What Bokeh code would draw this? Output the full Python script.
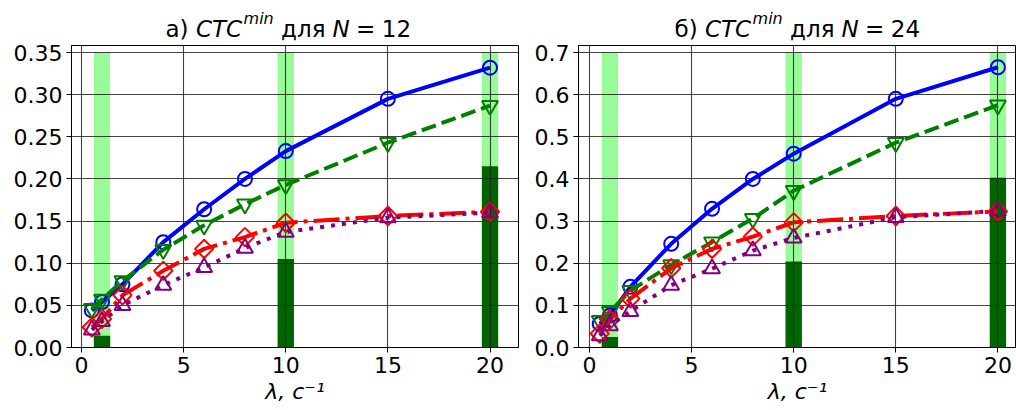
import numpy as np
from bokeh.plotting import figure
from bokeh.layouts import row, column
from bokeh.models import Label, FixedTicker, NumeralTickFormatter, Range1d
from bokeh.embed import file_html
from bokeh.resources import INLINE

# ---- data -------------------------------------------------------------
lam = [0.5, 1, 2, 4, 6, 8, 10, 15, 20]

blue_12 = [0.044, 0.054, 0.075, 0.125, 0.164, 0.200, 0.233, 0.295, 0.332]
green_12 = [0.046, 0.057, 0.079, 0.116, 0.145, 0.170, 0.193, 0.243, 0.287]
red_12 = [0.024, 0.034, 0.062, 0.091, 0.117, 0.131, 0.148, 0.156, 0.161]
purple_12 = [0.021, 0.031, 0.050, 0.074, 0.095, 0.118, 0.137, 0.154, 0.160]

blue_24 = [0.056, 0.076, 0.144, 0.246, 0.329, 0.400, 0.460, 0.590, 0.665]
green_24 = [0.064, 0.085, 0.135, 0.196, 0.250, 0.306, 0.372, 0.486, 0.575]
red_24 = [0.033, 0.066, 0.116, 0.188, 0.234, 0.263, 0.297, 0.312, 0.323]
purple_24 = [0.028, 0.052, 0.086, 0.148, 0.187, 0.230, 0.260, 0.309, 0.324]

bar_lam = [1, 10, 20]
light_12 = [0.35, 0.35, 0.35]
dark_12 = [0.014, 0.105, 0.215]
light_24 = [0.70, 0.70, 0.70]
dark_24 = [0.025, 0.204, 0.403]

x_ticks = [0, 5, 10, 15, 20]
y_ticks_12 = [0.0, 0.05, 0.1, 0.15, 0.2, 0.25, 0.3, 0.35]
y_ticks_24 = [0.0, 0.1, 0.2, 0.3, 0.4, 0.5, 0.6, 0.7]

title_12 = ["а)", "CTC", "min", "для", "N", "=", "12"]
title_24 = ["б)", "CTC", "min", "для", "N", "=", "24"]
x_label = "λ, c⁻¹"

FONT = "DejaVu Sans"
FS = "22px"

W = 1016
TOP_H = 41
MAIN_H = 369
FRAME_L = [71, 578]

# approximate DejaVu Sans advance widths (em) for laying out the title
ADV = {"а": 0.613, "б": 0.614, ")": 0.390, "C": 0.698, "T": 0.611,
       "m": 0.974, "i": 0.278, "n": 0.634, "д": 0.677, "л": 0.640,
       "я": 0.599, "N": 0.748, "=": 0.838, "1": 0.636, "2": 0.636,
       "4": 0.636}
TF = 23.0
SF = 16.0


def make_panel(width, border_left, border_right, x_range, y_max, y_ticks, y_fmt,
               series, light, dark):
    p = figure(width=width, height=MAIN_H, title=None,
               x_range=Range1d(*x_range), y_range=Range1d(0, y_max),
               output_backend="svg", toolbar_location=None,
               min_border_left=border_left, min_border_right=border_right,
               min_border_top=4, min_border_bottom=63)
    p.background_fill_color = "white"
    p.border_fill_color = "white"
    p.outline_line_color = "black"
    p.outline_line_width = 1

    r1 = p.vbar(x=bar_lam, top=light, width=0.8, fill_color="#98FB98",
                line_color=None)
    r2 = p.vbar(x=bar_lam, top=dark, width=0.8, fill_color="#006400",
                line_color=None)
    r1.level = "image"
    r2.level = "image"

    for g in (p.xgrid, p.ygrid):
        g.grid_line_color = "#222222"
        g.grid_line_alpha = 0.85
        g.grid_line_width = 1.1

    styles = [
        ("blue", None, "circle", 14, 0.0),
        ("green", "15 6", "inverted_triangle", 16, 0.0),
        ("red", "26 6 4 6", "square", 13, np.pi / 4),
        ("purple", "4 7", "triangle", 16, 0.0),
    ]
    for ys, (col, dash, mk, sz, ang) in zip(series, styles):
        kw = {} if dash is None else {"line_dash": dash}
        p.line(lam, ys, line_color=col, line_width=4, **kw)
        p.scatter(lam, ys, marker=mk, size=sz, angle=ang, fill_color=None,
                  line_color=col, line_width=2)

    p.xaxis.ticker = FixedTicker(ticks=x_ticks)
    p.yaxis.ticker = FixedTicker(ticks=y_ticks)
    p.yaxis.formatter = NumeralTickFormatter(format=y_fmt)
    for ax in (p.xaxis, p.yaxis):
        ax.major_label_text_font = FONT
        ax.major_label_text_font_size = FS
        ax.major_label_text_color = "black"
        ax.major_tick_out = 5
        ax.major_tick_in = 0
        ax.major_tick_line_color = "black"
        ax.major_tick_line_width = 1
        ax.minor_tick_out = 0
        ax.minor_tick_in = 0
        ax.axis_line_color = "black"
        ax.major_label_standoff = 4

    p.xaxis.axis_label = x_label
    p.xaxis.axis_label_text_font = FONT
    p.xaxis.axis_label_text_font_size = FS
    p.xaxis.axis_label_text_font_style = "italic"
    p.xaxis.axis_label_text_color = "black"
    p.xaxis.axis_label_standoff = 3
    return p


def strip(height):
    s = figure(width=W, height=height, title=None,
               x_range=Range1d(0, W), y_range=Range1d(0, height),
               x_axis_type=None, y_axis_type=None,
               output_backend="svg", toolbar_location=None,
               min_border_left=0, min_border_right=0,
               min_border_top=0, min_border_bottom=0)
    s.outline_line_color = None
    s.background_fill_color = "white"
    s.border_fill_color = "white"
    s.xgrid.visible = False
    s.ygrid.visible = False
    return s


def add_title(s, parts, x0):
    base = TOP_H - 28.3
    # (font size, style, raise, gap after, extra offset before)
    fmt = [(TF, "normal", 0, 0.318 * TF, 0),
           (TF, "italic", 0, 0.0, 0),
           (SF, "italic", 10, 0.318 * TF, 1.5),
           (TF, "normal", 0, 0.318 * TF, 0),
           (TF, "italic", 0, 0.28 * TF, 0),
           (TF, "normal", 0, 0.28 * TF, 0),
           (TF, "normal", 0, 0.0, 0)]
    x = x0
    for txt, (fs, st, dy, gap, pre) in zip(parts, fmt):
        x += pre
        s.add_layout(Label(x=x, y=base + dy, text=txt, text_font=FONT,
                           text_font_size=f"{fs}px", text_font_style=st,
                           text_color="black", text_align="left",
                           text_baseline="alphabetic"))
        x += sum(ADV[c] for c in txt) * fs + gap


# ---- title strip -------------------------------------------------------
top = strip(TOP_H)
add_title(top, title_12, FRAME_L[0] + 94)
add_title(top, title_24, FRAME_L[1] + 96)

# ---- main panels ------------------------------------------------------
p1 = make_panel(530, 71, 12, (-0.495, 21.395), 0.3583, y_ticks_12, "0.00",
                [blue_12, green_12, red_12, purple_12], light_12, dark_12)
p2 = make_panel(486, 48, 0, (-0.539, 20.91), 0.7166, y_ticks_24, "0.0",
                [blue_24, green_24, red_24, purple_24], light_24, dark_24)

layout = column(top, row(p1, p2))
open("out.html", "w").write(file_html(layout, INLINE))
